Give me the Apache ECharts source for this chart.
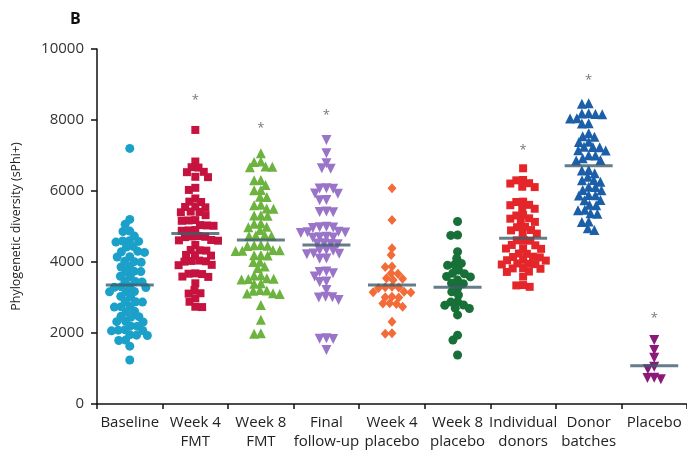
<!DOCTYPE html>
<html>
<head>
<meta charset="utf-8">
<script src="https://cdn.jsdelivr.net/npm/echarts@6/dist/echarts.min.js"></script>
<style>
html,body{margin:0;padding:0;background:#fff;}
#c{width:687px;height:452px;}
</style>
</head>
<body>
<div id="c"></div>
<script>
const categories = ['Baseline','Week 4\nFMT','Week 8\nFMT','Final\nfollow-up','Week 4\nplacebo','Week 8\nplacebo','Individual\ndonors','Donor\nbatches','Placebo'];
const yTicks = [0, 2000, 4000, 6000, 8000, 10000];

const baseline = [7200,5200,5060,4870,4860,4730,4600,4590,4580,4560,4440,4420,4300,4290,4270,4150,4140,4020,4010,3990,3880,3860,3740,3730,3720,3600,3580,3460,3450,3440,3310,3300,3290,3280,3170,3160,3150,3030,3010,2890,2880,2870,2750,2740,2730,2610,2590,2470,2460,2450,2330,2320,2310,2200,2190,2090,2080,2070,2060,1950,1940,1930,1800,1790,1630,1240];
const week4FMT = [7720,6830,6670,6660,6540,6530,6400,6390,6090,6030,5790,5700,5690,5560,5550,5540,5420,5410,5400,5320,5180,5170,5160,5040,5030,5020,4900,4890,4880,4730,4720,4710,4700,4620,4610,4600,4480,4340,4330,4320,4200,4190,4180,4040,4030,4020,4010,3920,3910,3680,3670,3660,3590,3580,3400,3210,3120,3110,2980,2880,2740,2730];
const week8FMT = [7060,6830,6820,6690,6680,6670,6310,6300,6170,6030,6020,5840,5830,5610,5600,5510,5500,5320,5310,5300,5090,5080,4990,4980,4900,4760,4750,4740,4730,4480,4470,4460,4450,4340,4330,4320,4310,4200,4190,4180,4010,4000,3870,3830,3630,3620,3540,3530,3520,3510,3400,3390,3210,3200,3190,3120,3110,3100,2790,2370,1990,1980];
const finalFollowUp = [7440,7060,6780,6640,6630,6080,6070,6060,5930,5920,5750,5740,5420,5410,5400,4990,4980,4970,4960,4850,4840,4830,4820,4710,4700,4690,4680,4530,4520,4510,4500,4340,4330,4320,4240,4230,4220,4100,4090,3730,3720,3680,3590,3450,3440,3210,3020,3010,3000,2930,1850,1840,1830,1520];
const week4Placebo = [6080,5180,4390,4200,3870,3860,3680,3670,3540,3530,3490,3300,3290,3280,3270,3160,3150,3140,3020,3010,3000,2840,2830,2820,2740,2320,1990,1980];
const week8Placebo = [5140,4760,4750,4290,4100,3960,3920,3910,3770,3680,3670,3590,3580,3490,3400,3390,3260,3160,3070,2880,2870,2790,2780,2700,2690,2510,1940,1800,1380];
const individualDonors = [6640,6310,6300,6220,6210,6120,6110,5700,5690,5610,5600,5510,5500,5320,5310,5230,5220,5140,5130,4990,4980,4900,4890,4810,4800,4620,4610,4600,4480,4470,4390,4380,4370,4240,4230,4150,4140,4130,4060,4050,4040,3960,3950,3940,3930,3830,3820,3810,3730,3720,3590,3350,3340,3300];
const donorBatches = [8470,8460,8190,8180,8170,8160,8050,8040,7910,7900,7630,7540,7530,7390,7380,7250,7240,7230,7150,7140,7010,7000,6920,6870,6860,6590,6580,6500,6400,6310,6300,6260,6120,6110,6030,6020,5890,5880,5870,5750,5740,5610,5600,5470,5460,5370,5360,5140,5130,4950,4900];
const placebo = [1800,1520,1300,1050,980,740,730,700];

const groups = [baseline, week4FMT, week8FMT, finalFollowUp, week4Placebo, week8Placebo, individualDonors, donorBatches, placebo];
const meanValues = [3350, 4800, 4620, 4480, 3350, 3290, 4670, 6710, 1080];
const starValues = [null, 8560, 7770, 8140, null, null, 7150, 9130, 2420];

const styles = [
  {symbol:'circle', size:9, color:'#1ba1c9', rotate:0},
  {symbol:'rect', size:8, color:'#c5123f', rotate:0},
  {symbol:'triangle', size:10, color:'#6cb33f', rotate:0},
  {symbol:'triangle', size:10, color:'#9a74c8', rotate:180},
  {symbol:'diamond', size:[9,10], color:'#f26b38', rotate:0},
  {symbol:'circle', size:9, color:'#187039', rotate:0},
  {symbol:'rect', size:8, color:'#e4262b', rotate:0},
  {symbol:'triangle', size:10, color:'#1c5fa9', rotate:0},
  {symbol:'triangle', size:10, color:'#8a197a', rotate:180}
];

const FONT = '"Open Sans", "DejaVu Sans", sans-serif';
const chart = echarts.init(document.getElementById('c'));

const baseOption = {
  animation: false,
  backgroundColor: '#fff',
  title: {text: 'B', left: 65, top: 6, textStyle: {fontFamily: FONT, fontSize: 16, fontWeight: 'bold', color: '#111'}},
  grid: {left: 97, right: -7, top: 49, bottom: 48, containLabel: false},
  xAxis: [
    {type: 'category', data: categories, boundaryGap: true,
     axisLine: {show: true, lineStyle: {color: '#111', width: 1.5}},
     axisTick: {show: true, length: 5, lineStyle: {color: '#111', width: 1.5}},
     axisLabel: {fontFamily: FONT, fontSize: 15, color: '#222', lineHeight: 19, margin: 9, interval: 0},
     splitLine: {show: false}},
    {type: 'value', min: -0.5, max: 8.5, show: false}
  ],
  yAxis: [{
    type: 'value', min: 0, max: 10000, interval: 2000,
    name: 'Phylogenetic diversity (sPhi+)', nameLocation: 'middle', nameGap: 74,
    nameTextStyle: {fontFamily: FONT, fontSize: 12.5, color: '#222'},
    axisLine: {show: true, onZero: false, lineStyle: {color: '#111', width: 1.5}},
    axisTick: {show: true, length: 6, lineStyle: {color: '#111', width: 1.5}},
    axisLabel: {fontFamily: FONT, fontSize: 15, color: '#333', margin: 13,
      formatter: v => yTicks.indexOf(v) >= 0 ? String(v) : ''},
    splitLine: {show: false}
  }],
  series: [{type: 'scatter', xAxisIndex: 1, yAxisIndex: 0, data: []}]
};
chart.setOption(baseOption);

const bandPx = chart.convertToPixel({xAxisIndex: 1}, 1) - chart.convertToPixel({xAxisIndex: 1}, 0);

function swarmOffsets(vals, d) {
  const ypx = vals.map(v => chart.convertToPixel({yAxisIndex: 0}, v));
  const idx = vals.map((_, i) => i).sort((a, b) => ypx[a] - ypx[b]);
  const placed = [];
  const off = new Array(vals.length).fill(0);
  for (const i of idx) {
    const y = ypx[i];
    const ints = [];
    for (const p of placed) {
      const dy = Math.abs(p.y - y);
      if (dy < d) { const w = Math.sqrt(d * d - dy * dy); ints.push([p.x - w, p.x + w]); }
    }
    const cands = [0];
    ints.forEach(([a, b]) => cands.push(a, b));
    cands.sort((a, b) => Math.abs(a) - Math.abs(b));
    let x = 0;
    for (const c of cands) {
      if (ints.every(([a, b]) => c <= a + 1e-6 || c >= b - 1e-6)) { x = c; break; }
    }
    placed.push({x, y});
    off[i] = x;
  }
  return off;
}

const series = [];
groups.forEach((vals, gi) => {
  const st = styles[gi];
  const off = swarmOffsets(vals, 6.8);
  series.push({
    type: 'scatter', xAxisIndex: 1, yAxisIndex: 0,
    symbol: st.symbol, symbolSize: st.size, symbolRotate: st.rotate,
    itemStyle: {color: st.color, opacity: 1},
    z: 2,
    data: vals.map((v, i) => [gi + off[i] / bandPx, v])
  });
});

series.push({
  type: 'scatter', xAxisIndex: 0, yAxisIndex: 0,
  symbol: 'rect', symbolSize: [48, 3],
  itemStyle: {color: '#3e5d6c'}, z: 5,
  data: meanValues.map((m, i) => [i, m])
});

series.push({
  type: 'scatter', xAxisIndex: 0, yAxisIndex: 0,
  symbol: 'circle', symbolSize: 1, itemStyle: {color: 'rgba(0,0,0,0)'}, z: 6,
  label: {show: true, position: 'inside', formatter: '*', fontFamily: FONT, fontSize: 13, color: '#555'},
  data: starValues.map((s, i) => s === null ? null : [i, s]).filter(x => x !== null)
});

chart.setOption({series: series});
</script>
</body>
</html>
